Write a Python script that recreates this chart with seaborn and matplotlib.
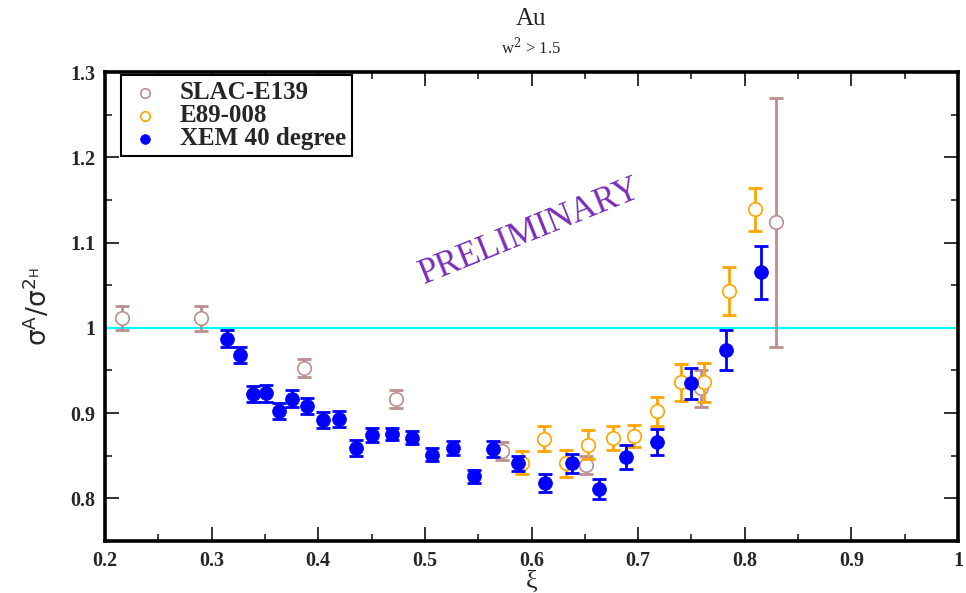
import matplotlib
matplotlib.use("Agg")
import matplotlib.pyplot as plt
from matplotlib.ticker import MultipleLocator, FuncFormatter
import numpy as np
import pandas as pd
import seaborn as sns

# SLAC-E139 ratios
slac_xi = [0.216, 0.290, 0.387, 0.473, 0.572, 0.651, 0.759, 0.829]
slac_ratio = [1.012, 1.011, 0.953, 0.916, 0.856, 0.839, 0.929, 1.124]
slac_err = [0.014, 0.0145, 0.011, 0.0105, 0.0105, 0.011, 0.022, 0.146]

# E89-008 ratios
e89_xi = [0.591, 0.612, 0.632, 0.653, 0.676, 0.696, 0.718, 0.740, 0.762, 0.785, 0.810]
e89_ratio = [0.842, 0.870, 0.841, 0.863, 0.871, 0.873, 0.902, 0.936, 0.936, 1.043, 1.139]
e89_err = [0.0135, 0.015, 0.016, 0.017, 0.014, 0.013, 0.017, 0.022, 0.023, 0.028, 0.025]

# XEM 40 degree ratios
xem_xi = [0.314, 0.327, 0.339, 0.351, 0.363, 0.375, 0.389, 0.404, 0.419, 0.435,
          0.450, 0.469, 0.488, 0.507, 0.526, 0.546, 0.564, 0.587, 0.613, 0.638,
          0.663, 0.689, 0.718, 0.750, 0.782, 0.815]
xem_ratio = [0.987, 0.968, 0.922, 0.923, 0.902, 0.917, 0.908, 0.892, 0.893, 0.859,
             0.874, 0.876, 0.871, 0.851, 0.859, 0.826, 0.858, 0.841, 0.818, 0.841,
             0.811, 0.849, 0.866, 0.935, 0.974, 1.065]
xem_err = [0.010, 0.0095, 0.0095, 0.0095, 0.0095, 0.0095, 0.0095, 0.0095, 0.0095, 0.0095,
           0.008, 0.007, 0.0075, 0.0077, 0.0078, 0.0078, 0.0094, 0.009, 0.010, 0.011,
           0.012, 0.014, 0.015, 0.018, 0.023, 0.031]

series_names = ["SLAC-E139", "E89-008", "XEM 40 degree"]
x_ticks = [0.2, 0.3, 0.4, 0.5, 0.6, 0.7, 0.8, 0.9, 1.0]
y_ticks = [0.8, 0.9, 1.0, 1.1, 1.2, 1.3]

sns.set_theme(style="ticks")
plt.rcParams["font.family"] = ["Liberation Serif", "DejaVu Serif"]
plt.rcParams["mathtext.fontset"] = "dejavusans"

fig = plt.figure(figsize=(9.66, 5.93), dpi=100)
ax = fig.add_axes([105 / 966, 1 - 541 / 593, 853 / 966, 469 / 593])
ax.set_facecolor("white")

# reference line at unity
ax.axhline(1.0, color="#00FFFF", lw=1.6, zorder=2)

styles = [
    (series_names[0], slac_xi, slac_ratio, slac_err, "#BC8F8F", False, 3),
    (series_names[1], e89_xi, e89_ratio, e89_err, "#FFA500", False, 4),
    (series_names[2], xem_xi, xem_ratio, xem_err, "#0000FF", True, 5),
]

for name, xs, ys, es, col, filled, z in styles:
    df = pd.DataFrame({"xi": xs, "ratio": ys, "err": es})
    ax.errorbar(df["xi"], df["ratio"], yerr=df["err"], fmt="none", ecolor=col,
                elinewidth=2.0, capsize=4.9, capthick=2.0, zorder=z)
    if filled:
        sns.scatterplot(data=df, x="xi", y="ratio", ax=ax, color=col, s=100,
                        edgecolor=col, linewidth=0.5, marker="o", label=name,
                        zorder=z + 0.5)
    else:
        sns.scatterplot(data=df, x="xi", y="ratio", ax=ax, color="white", s=95,
                        edgecolor=col, linewidth=1.2, marker="o", label=name,
                        zorder=z + 0.5)

ax.set_xlim(0.2, 1.0)
ax.set_ylim(0.75, 1.3)
ax.xaxis.set_major_locator(MultipleLocator(0.1))
ax.xaxis.set_minor_locator(MultipleLocator(0.05))
ax.yaxis.set_major_locator(MultipleLocator(0.1))
ax.yaxis.set_minor_locator(MultipleLocator(0.05))
ax.set_xticks(x_ticks)
ax.set_yticks(y_ticks)
fmt = FuncFormatter(lambda v, p: f"{v:g}")
ax.xaxis.set_major_formatter(fmt)
ax.yaxis.set_major_formatter(fmt)

ax.tick_params(which="both", direction="in", top=True, right=True, color="#222222")
ax.tick_params(which="major", length=10, width=1.3, labelsize=14.5, pad=7)
ax.tick_params(which="minor", length=5, width=1.2)
for lab in ax.get_xticklabels() + ax.get_yticklabels():
    lab.set_fontweight("bold")
for sp in ax.spines.values():
    sp.set_linewidth(2.6)
    sp.set_color("black")

ax.set_xlabel("ξ", fontsize=19, labelpad=0)
ax.set_ylabel(r"σ$^{\mathregular{A}}$/σ$^{\mathregular{2_H}}$", fontsize=19, labelpad=12,
              family=["DejaVu Sans"])

fig.text(531 / 966, 1 - 19 / 593, "Au", ha="center", va="center", fontsize=18)
fig.text(531 / 966, 1 - 46 / 593, r"w$^{2}$ > 1.5", ha="center", va="center", fontsize=12,
         math_fontfamily="dejavuserif")

ax.text(0.498, 0.66, "PRELIMINARY", transform=ax.transAxes, rotation=22,
        ha="center", va="center", fontsize=25, color="#7A2DB8", zorder=1)

leg = ax.legend(loc="upper left", bbox_to_anchor=(0.019, 0.994), borderaxespad=0,
                frameon=True, fancybox=False, edgecolor="black", framealpha=1,
                prop={"family": "Liberation Serif", "weight": "bold", "size": 18},
                markerscale=0.7, handletextpad=0.7, labelspacing=0.0,
                borderpad=0.25, handlelength=1.4)
leg.get_frame().set_linewidth(1.5)

fig.savefig("out.png", dpi=100)
